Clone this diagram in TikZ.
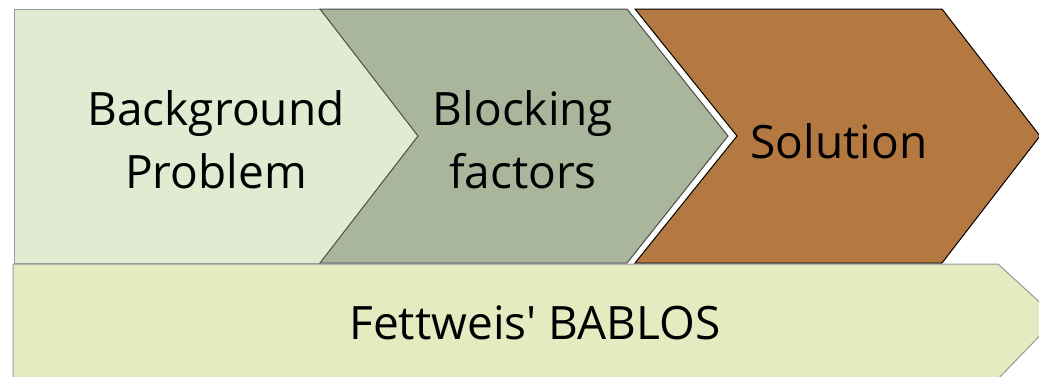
\documentclass[tikz,border=0pt]{standalone}
\usepackage{fontspec}
\setmainfont{Open Sans}
\definecolor{bgprob}{HTML}{E0EBD1}
\definecolor{blockf}{HTML}{A9B69B}
\definecolor{soln}{HTML}{B37941}
\definecolor{bablos}{HTML}{E5EBC0}
\begin{document}
\begin{tikzpicture}[x=1pt,y=-1pt]
    \tikzset{label/.style = {align=center,font=\fontsize{46}{63}\selectfont,inner sep=0pt}}
    \tikzset{edge/.style = {line width=1pt,line join=miter}}
    \useasboundingbox (0,0) rectangle (1039,376);
    \clip (0,0) rectangle (1039,376);
    % chevrons
    \fill[bgprob] (14,9) -- (320,9) -- (418,136) -- (320,263) -- (14,263) -- cycle;
    \draw[edge,draw=gray!80] (320,9) -- (14,9) -- (14,263) -- (320,263);
    \draw[edge,fill=blockf,draw=black!70] (320,9) -- (627,9) -- (728,136) -- (627,263) -- (320,263) -- (418,136) -- cycle;
    \draw[edge,fill=soln,draw=black] (635,9) -- (942,9) -- (1040,136) -- (942,263) -- (635,263) -- (737,136) -- cycle;
    \draw[edge,fill=bablos,draw=gray!80] (13,264) -- (998,264) -- (1057,318) -- (995,382) -- (13,382) -- cycle;
    % texts
    \node[label] (bg) at (216,140) {Background\\Problem};
    \node[label] (bf) at (523,140) {Blocking\\factors};
    \node[label] (so) at (839,141) {Solution};
    \node[label] (fb) at (535,323) {Fettweis\textquotesingle{} BABLOS};
\end{tikzpicture}
\end{document}
